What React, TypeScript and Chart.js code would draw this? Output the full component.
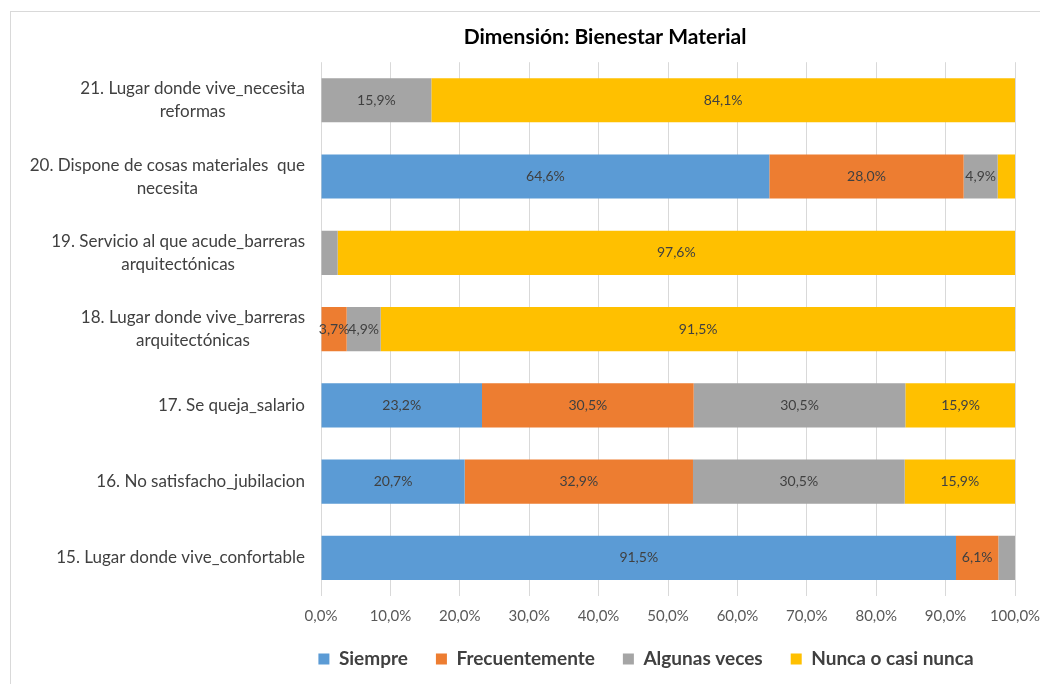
import React, { useEffect, useRef } from "react";
import { Chart, registerables } from "chart.js";

Chart.register(...registerables);

const FONT = "Lato, 'Open Sans', 'Noto Sans', sans-serif";

const titleText = "Dimensión: Bienestar Material";

const categories: (string | string[])[] = [
  ["21. Lugar donde vive_necesita", "reformas"],
  ["20. Dispone de cosas materiales  que", "necesita"],
  ["19. Servicio al que acude_barreras", "arquitectónicas"],
  ["18. Lugar donde vive_barreras", "arquitectónicas"],
  "17. Se queja_salario",
  "16. No satisfacho_jubilacion",
  "15. Lugar donde vive_confortable",
];

const seriesNames = ["Siempre", "Frecuentemente", "Algunas veces", "Nunca o casi nunca"];
const siempre = [0, 64.6, 0, 0, 23.2, 20.7, 91.5];
const frecuentemente = [0, 28.0, 0, 3.7, 30.5, 32.9, 6.1];
const algunasVeces = [15.9, 4.9, 2.4, 4.9, 30.5, 30.5, 2.4];
const nuncaCasiNunca = [84.1, 2.5, 97.6, 91.5, 15.9, 15.9, 0];
const seriesColors = ["#5B9BD5", "#ED7D31", "#A5A5A5", "#FFC000"];

const xTickValues = [0, 10, 20, 30, 40, 50, 60, 70, 80, 90, 100];

const fmt = (v: number) => v.toFixed(1).replace(".", ",") + "%";

export default function App() {
  const ref = useRef<HTMLCanvasElement>(null);

  useEffect(() => {
    document.body.style.margin = "0";
    const canvas = ref.current!;

    const framePlugin = {
      id: "frame",
      beforeDraw(chart: any) {
        const ctx = chart.ctx;
        ctx.save();
        ctx.fillStyle = "#ffffff";
        ctx.fillRect(0, 0, chart.width, chart.height);
        ctx.strokeStyle = "#d9d9d9";
        ctx.lineWidth = 1;
        ctx.strokeRect(10.5, 11.5, 1200, 800);
        ctx.restore();
      },
    };

    const LEGEND_PAD = 28;
    const LEGEND_FONT = 19;

    const placePlugin = {
      id: "place",
      afterLayout(chart: any) {
        const t = chart.titleBlock;
        if (t) {
          t.left = 605 - 300;
          t.right = 605 + 300;
        }
        const lg = chart.legend;
        if (lg) {
          const h = lg.bottom - lg.top;
          lg.left = 646 - 450;
          lg.right = 646 + 450;
          lg.top = 659 - LEGEND_PAD - LEGEND_FONT / 2;
          lg.bottom = lg.top + h;
        }
      },
    };

    const catLabelPlugin = {
      id: "catLabels",
      afterDraw(chart: any) {
        const ctx = chart.ctx;
        const yScale = chart.scales.y;
        const right = chart.chartArea.left - 16;
        ctx.save();
        ctx.font = `17px ${FONT}`;
        ctx.fillStyle = "#404040";
        ctx.textAlign = "center";
        ctx.textBaseline = "middle";
        categories.forEach((lab, i) => {
          const lines = Array.isArray(lab) ? lab : [lab];
          const w = Math.max(...lines.map((l) => ctx.measureText(l).width));
          const cx = right - w / 2;
          const y = yScale.getPixelForTick(i);
          const lh = 23;
          const y0 = y - ((lines.length - 1) * lh) / 2;
          lines.forEach((l, k) => ctx.fillText(l, cx, y0 + k * lh));
        });
        ctx.restore();
      },
    };

    const valueLabelPlugin = {
      id: "valueLabels",
      afterDatasetsDraw(chart: any) {
        const ctx = chart.ctx;
        ctx.save();
        ctx.font = `14px ${FONT}`;
        ctx.fillStyle = "#404040";
        ctx.textAlign = "center";
        ctx.textBaseline = "middle";
        chart.data.datasets.forEach((ds: any, di: number) => {
          const meta = chart.getDatasetMeta(di);
          meta.data.forEach((el: any, i: number) => {
            const v = ds.data[i];
            if (v >= 3) {
              const p = el.getProps(["x", "y", "base"], true);
              ctx.fillText(fmt(v), (p.x + p.base) / 2, p.y);
            }
          });
        });
        ctx.restore();
      },
    };

    const data = [siempre, frecuentemente, algunasVeces, nuncaCasiNunca];

    const chart = new Chart(canvas, {
      type: "bar",
      data: {
        labels: categories.map((c) => (Array.isArray(c) ? c.join(" ") : c)),
        datasets: seriesNames.map((name, i) => ({
          label: name,
          data: data[i],
          backgroundColor: seriesColors[i],
          borderWidth: 0,
          categoryPercentage: 1,
          barPercentage: 0.578,
        })),
      },
      options: {
        indexAxis: "y",
        animation: false,
        responsive: false,
        devicePixelRatio: 1,
        layout: { padding: { left: 11, right: 25, top: 12, bottom: -9 } },
        scales: {
          x: {
            stacked: true,
            min: 0,
            max: 100,
            afterBuildTicks(scale: any) {
              scale.ticks = xTickValues.map((v) => ({ value: v }));
            },
            afterFit(scale: any) {
              scale.paddingLeft = 0;
              scale.paddingRight = 0;
            },
            ticks: {
              padding: 11,
              color: "#595959",
              font: { family: FONT, size: 15 },
              maxRotation: 0,
              callback: (v: any) => fmt(Number(v)),
            },
            grid: { color: "#d9d9d9", drawTicks: false },
            border: { display: false },
          },
          y: {
            stacked: true,
            ticks: { display: false },
            grid: { display: false, drawTicks: false },
            border: { display: false },
            afterFit(scale: any) {
              scale.width = 310;
            },
          },
        },
        plugins: {
          title: {
            display: true,
            text: titleText,
            color: "#000000",
            font: { family: FONT, size: 21, weight: "bold" },
            padding: { top: 13, bottom: 12 },
          },
          legend: {
            position: "bottom",
            labels: {
              boxWidth: 11,
              boxHeight: 11,
              padding: LEGEND_PAD,
              color: "#404040",
              font: { family: FONT, size: LEGEND_FONT, weight: "bold" },
            },
          },
          tooltip: { enabled: false },
        },
      },
      plugins: [framePlugin, placePlugin, catLabelPlugin, valueLabelPlugin],
    } as any);

    return () => chart.destroy();
  }, []);

  return (
    <div style={{ position: "absolute", left: 0, top: 0, width: 1040, height: 684 }}>
      <canvas ref={ref} width={1040} height={684} style={{ display: "block" }} />
    </div>
  );
}
